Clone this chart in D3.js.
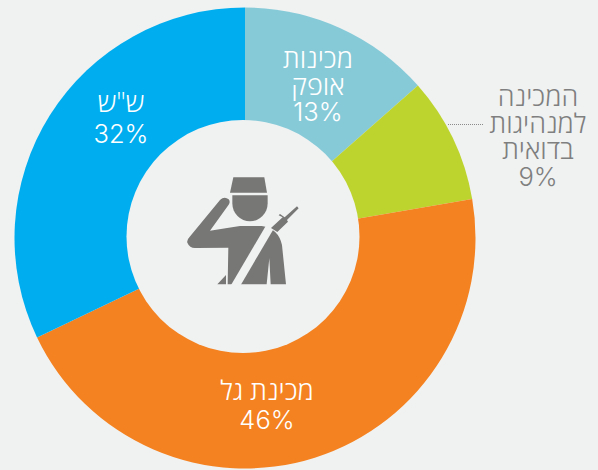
<!DOCTYPE html>
<html>
<head>
<meta charset="utf-8">
<script src="https://cdn.jsdelivr.net/npm/d3@7"></script>
<style>
  html, body { margin: 0; padding: 0; background: #f0f2f2; }
  svg { display: block; }
  text { font-family: "Open Sans", "DejaVu Sans", sans-serif; font-weight: 300; text-anchor: middle; }
  text.pct { font-family: Inter, "Open Sans", sans-serif; font-weight: 300; }
</style>
</head>
<body>
<svg width="598" height="470"></svg>
<script>
// clockwise from 12 o'clock, shares
const categories = ["מכינות אופק", "המכינה למנהיגות בדואית", "מכינת גל", "ש\"ש"];
const values = [13.5, 8.8, 45.6, 32.1];
const percentLabels = ["13%", "9%", "46%", "32%"];
const labelLines = [["מכינות", "אופק"], ["המכינה", "למנהיגות", "בדואית"], ["מכינת גל"], ["ש\"ש"]];
const colors = ["#86cad8", "#bdd42f", "#f58220", "#00aeef"];

const cx = 245, cy = 238, outer = 230.5;

const svg = d3.select("svg");

const pie = d3.pie().sort(null)(values);
const arc = d3.arc().innerRadius(0).outerRadius(outer);
const color = d3.scaleOrdinal().domain(categories).range(colors);

svg.append("g")
    .attr("transform", "translate(" + cx + "," + cy + ")")
  .selectAll("path")
  .data(pie)
  .enter()
  .append("path")
    .attr("d", arc)
    .attr("fill", (d, i) => color(categories[i]));

// the hole is not quite concentric in the original
svg.append("circle")
    .attr("cx", 243).attr("cy", 236.5)
    .attr("r", 116.5)
    .attr("fill", "#f0f2f2");

// leader for the label that sits outside the ring
svg.append("line")
    .attr("x1", 448).attr("x2", 484)
    .attr("y1", 124.5).attr("y2", 124.5)
    .attr("stroke", "#8a8a8a")
    .attr("stroke-width", 1)
    .attr("stroke-dasharray", "1 1");

// x of the block, first baseline, line spacing, text colour
const blocks = [
  { x: 318, y: 68, dy: 26.5, fill: "#fff" },
  { x: 538, y: 106, dy: 26.6, fill: "#7f7f7f" },
  { x: 267, y: 400, dy: 28.5, fill: "#fff" },
  { x: 121, y: 112, dy: 31, fill: "#fff" }
];

blocks.forEach((b, i) => {
  const lines = labelLines[i].concat(percentLabels[i]);
  svg.append("g").selectAll("text")
    .data(lines)
    .enter()
    .append("text")
      .attr("class", (d, j) => j === lines.length - 1 ? "pct" : null)
      .attr("x", b.x)
      .attr("y", (d, j) => b.y + j * b.dy)
      .attr("fill", b.fill)
      .attr("font-size", (d, j) => j === lines.length - 1 ? 25.5 : 27)
      .text(d => d);
});

// saluting soldier, drawn on a 3x grid
const icon = svg.append("g")
    .attr("transform", "translate(170,160) scale(0.3333)")
    .attr("fill", "#777775");

icon.append("path").attr("d", "M190 52H283L291 98H180Z");
icon.append("path").attr("d", "M187 106H293V130A53 54 0 0 1 187 130Z");
// arm and body
icon.append("path").attr("d", "M150 120Q163 108 176 118Q182 126 176 134L120 212Q165 205 210 198L275 198Q325 205 336 255L348 373H302L298 295L290 373H173L175 263L78 264Q60 266 52 248Q50 240 58 232Z");
icon.append("path").attr("d", "M142 373L168 345V373Z");
// sash
icon.append("path")
    .attr("d", "M304 194L190 388")
    .attr("stroke", "#f0f2f2")
    .attr("stroke-width", 25)
    .attr("fill", "none");
// rifle
icon.append("path").attr("d", "M303 204L338 172L326 166L330 162L344 172L381 139L386 145L351 180L354 185L322 216Z");
</script>
</body>
</html>
